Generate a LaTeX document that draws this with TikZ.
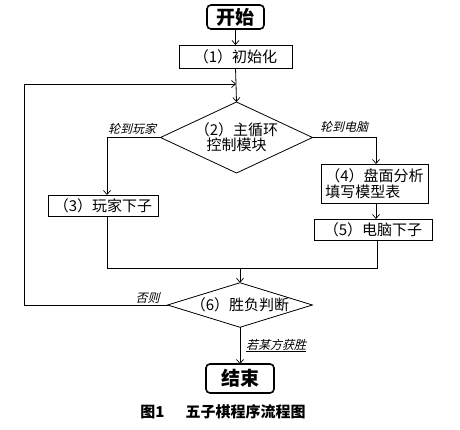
\documentclass[tikz,border=0pt]{standalone}
\usepackage{fontspec}
\setmainfont{Noto Sans CJK SC}
\newfontfamily\cjkit[FakeSlant=0.25]{Noto Sans CJK SC}
\usetikzlibrary{shapes.geometric,arrows.meta}
\begin{document}
\begin{tikzpicture}[x=1pt,y=-1pt,
  every node/.style={inner sep=0pt,outer sep=0pt},
  line/.style={draw=black,line width=0.8pt},
  arr/.style={line,-{Straight Barb[length=4pt,width=7pt,line width=0.7pt]}},
  procbox/.style={draw=black,line width=0.8pt,rectangle,font=\fontsize{15}{16}\selectfont},
  termbox/.style={draw=black,line width=1.6pt,rectangle,rounded corners=4pt,font=\fontsize{19}{20}\selectfont\bfseries},
  decbox/.style={draw=black,line width=0.8pt,diamond,align=center,font=\fontsize{15}{16}\selectfont},
  lab/.style={font=\cjkit\fontsize{12}{13}\selectfont}]
\useasboundingbox (0,0) rectangle (460,430);
\node[termbox,minimum width=57pt,minimum height=24pt] (start) at (235.5,17) {开始};
\node[procbox,minimum width=113pt,minimum height=23pt] (init) at (235.5,56.5) {（1）初始化};
\node[decbox,shape aspect=2.14,minimum width=152pt,minimum height=71pt] (d2) at (236.5,137.5) {（2）主循环\\[-1pt]控制模块};
\node[procbox,minimum width=110pt,minimum height=21pt] (b3) at (103,205.5) {（3）玩家下子};
\node[procbox,minimum width=107pt,minimum height=39pt,align=left] (b4) at (374.5,183.5) {（4）盘面分析\\填写模型表};
\node[procbox,minimum width=118pt,minimum height=21pt] (b5) at (373,229.5) {（5）电脑下子};
\node[decbox,shape aspect=3.25,minimum width=143pt,minimum height=44pt] (d6) at (240,305) {（6）胜负判断};
\node[termbox,minimum width=68pt,minimum height=29pt] (end) at (240,378.5) {结束};
\node[font=\fontsize{15}{16}\selectfont\bfseries] (cap) at (223,412) {图1\hspace{1.4em}五子棋程序流程图};

\coordinate (loop) at (236,84);
\coordinate (merge) at (240,268);

\draw[arr] (start.south) -- (init.north);
\draw[line] (init.south) -- (loop);
\draw[arr] (loop) -- (d2.north);
\draw[arr] (d2.west) -| ([xshift=4pt]b3.north);
\draw[arr] (d2.east) -| ([xshift=1.5pt]b4.north);
\draw[arr] ([xshift=1.5pt]b4.south) -- ([xshift=3pt]b5.north);
\draw[line] ([xshift=4pt]b3.south) |- (merge);
\draw[line] ([xshift=4pt]b5.south) |- (merge);
\draw[arr] (merge) -- (d6.north);
\draw[arr] (d6.west) -| (24,84) -- (loop);
\draw[arr] (d6.south) -- (end.north);

\node[lab] (l1) at (132,128.5) {轮到玩家};
\node[lab] (l2) at (344,127) {轮到电脑};
\node[lab] (l3) at (147.5,298) {否则};
\node[lab] (l4) at (276,345.5) {\underline{若某方获胜}};
\end{tikzpicture}
\end{document}
